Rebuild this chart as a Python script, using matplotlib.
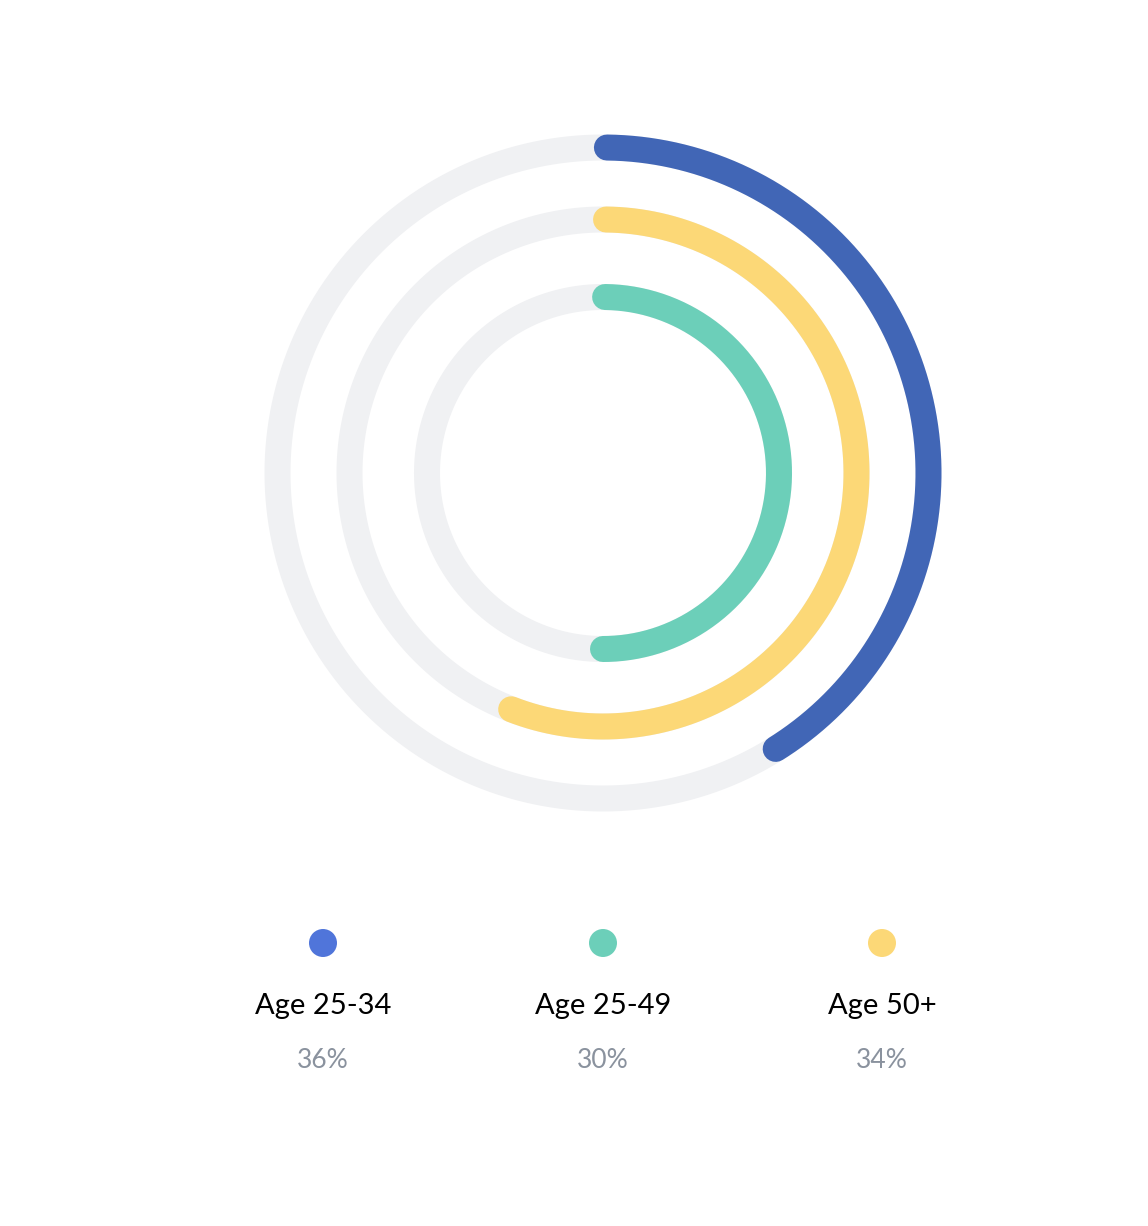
import numpy as np
import matplotlib
matplotlib.use("Agg")
import matplotlib.pyplot as plt

# ---- data ----
categories = ["Age 25-34", "Age 25-49", "Age 50+"]
label_values = ["36%", "30%", "34%"]
# fraction of full circle each arc spans, outer -> inner
arc_names = ["Age 25-34", "Age 50+", "Age 25-49"]
arc_fractions = [0.411, 0.559, 0.500]

# ---- style ----
arc_colors = {"Age 25-34": "#4166B6", "Age 50+": "#FCD877", "Age 25-49": "#6CCFB9"}
dot_colors = {"Age 25-34": "#5075DA", "Age 50+": "#FCD877", "Age 25-49": "#6CCFB9"}
track_color = "#F0F1F3"
ring_radii = [325.5, 253.5, 176.0]  # px
W, H = 1148, 1226
DPI = 100
lw = 26 * 72 / DPI

fig = plt.figure(figsize=(W / DPI, H / DPI), dpi=DPI)
fig.patch.set_facecolor("white")

cx, cy = 603, 473
R = 360
ax = fig.add_axes([(cx - R) / W, 1 - (cy + R) / H, 2 * R / W, 2 * R / H], projection="polar")
ax.set_theta_zero_location("N")
ax.set_theta_direction(-1)
ax.set_ylim(0, R)
ax.axis("off")

full = np.linspace(0, 2 * np.pi, 721)
for name, frac, r in zip(arc_names, arc_fractions, ring_radii):
    ax.plot(full, np.full_like(full, r), color=track_color, lw=lw, solid_capstyle="butt", zorder=1)
    th = np.linspace(0.012, 2 * np.pi * frac, 400)
    ax.plot(th, np.full_like(th, r), color=arc_colors[name], lw=lw,
            solid_capstyle="round", zorder=2)

# legend
lax = fig.add_axes([0, 0, 1, 1])
lax.set_xlim(0, W)
lax.set_ylim(H, 0)
lax.axis("off")
xs = [323, 603, 882]
for x, name, val in zip(xs, categories, label_values):
    lax.scatter([x], [943], s=(28 * 72 / DPI) ** 2, color=dot_colors[name], edgecolors="none")
    lax.text(x, 1006, name, ha="center", va="center", fontsize=21,
             family=["Lato", "DejaVu Sans"], color="#000000")
    lax.text(x, 1060, val, ha="center", va="center", fontsize=19,
             family=["Lato", "DejaVu Sans"], color="#8A929E")

fig.savefig("out.png", dpi=DPI, facecolor="white")
